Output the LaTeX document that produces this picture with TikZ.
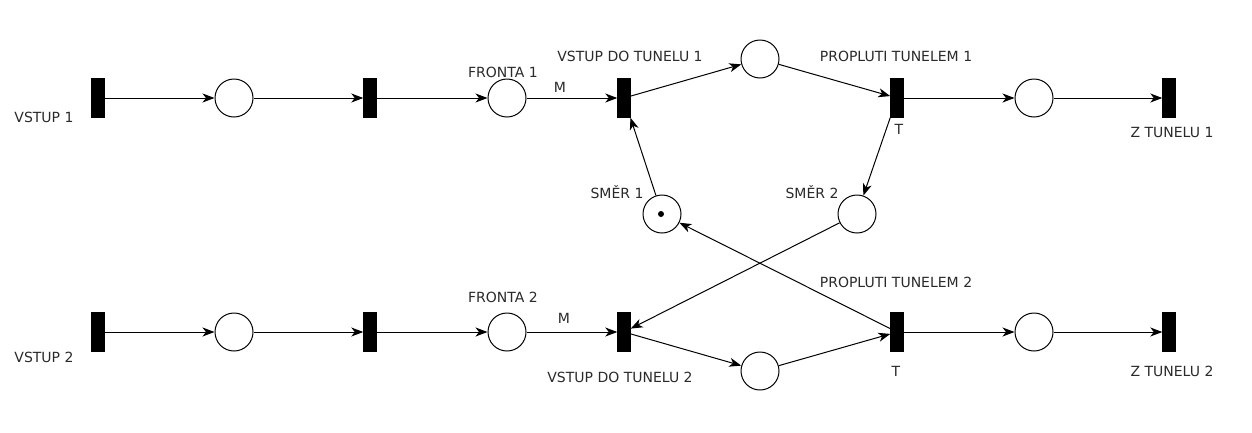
\documentclass[tikz,border=0pt]{standalone}
\usepackage{fontspec}
\setmainfont{DejaVu Sans}
\usetikzlibrary{arrows.meta}
\definecolor{txt}{HTML}{2A2A2A}
\begin{document}
\begin{tikzpicture}[x=1pt,y=-1pt,
  trans/.style={rectangle,fill=black,draw=black,minimum width=13pt,minimum height=39pt,inner sep=0pt},
  place/.style={circle,draw=black,line width=1pt,minimum size=38pt,inner sep=0pt},
  lbl/.style={text=txt,font=\fontsize{14}{16}\selectfont,inner sep=0pt},
  arc/.style={draw=black,line width=1pt,-{Stealth[length=12pt,width=9pt,inset=3.5pt]}}]
\useasboundingbox (0,0) rectangle (1252,432);
% row 1
\node[trans] (t11) at (98,98) {};
\node[place] (p11) at (234,98) {};
\node[trans] (t12) at (370,98) {};
\node[place] (f1) at (507,98) {};
\node[trans] (t13) at (624,98) {};
\node[place] (pt) at (760,59) {};
\node[trans] (t14) at (897,98) {};
\node[place] (p14) at (1034,98) {};
\node[trans] (t15) at (1169,98) {};
% middle
\node[place] (s1) at (662,214) {};
\fill (661,214) circle (3pt);
\node[place] (s2) at (857,214) {};
% row 2
\node[trans] (t21) at (98,332) {};
\node[place] (p21) at (234,332) {};
\node[trans] (t22) at (370,332) {};
\node[place] (f2) at (507,332) {};
\node[trans] (t23) at (624,332) {};
\node[place] (pb) at (760,371) {};
\node[trans] (t24) at (897,332) {};
\node[place] (p24) at (1034,332) {};
\node[trans] (t25) at (1169,332) {};
% arcs row 1
\draw[arc] (t11) -- (p11);
\draw[arc] (p11) -- (t12);
\draw[arc] (t12) -- (f1);
\draw[arc] (f1) -- (t13);
\draw[arc] (t13) -- (pt);
\draw[arc] (pt) -- (t14);
\draw[arc] (t14) -- (p14);
\draw[arc] (p14) -- (t15);
% cross arcs
\draw[arc] (t14) -- (s2);
\draw[arc] (s1) -- (t13);
\draw[arc] (s2) -- (t23);
\draw[arc] (t24) -- (s1);
% arcs row 2
\draw[arc] (t21) -- (p21);
\draw[arc] (p21) -- (t22);
\draw[arc] (t22) -- (f2);
\draw[arc] (f2) -- (t23);
\draw[arc] (t23) -- (pb);
\draw[arc] (pb) -- (t24);
\draw[arc] (t24) -- (p24);
\draw[arc] (p24) -- (t25);
% labels
\node[lbl] (l1) at (44,117) {VSTUP 1};
\node[lbl] (l2) at (503,72) {FRONTA 1};
\node[lbl] (l3) at (630,56) {VSTUP DO TUNELU 1};
\node[lbl] (l4) at (896,56) {PROPLUTI TUNELEM 1};
\node[lbl] (l5) at (1172,132) {Z TUNELU 1};
\node[lbl] (l6) at (899,129) {T};
\node[lbl] (l7) at (560,87) {M};
\node[lbl] (l8) at (617,192) {SMĚR 1};
\node[lbl] (l9) at (812,192) {SMĚR 2};
\node[lbl] (l10) at (896,282) {PROPLUTI TUNELEM 2};
\node[lbl] (l11) at (503,297) {FRONTA 2};
\node[lbl] (l12) at (564,318) {M};
\node[lbl] (l13) at (620,377) {VSTUP DO TUNELU 2};
\node[lbl] (l14) at (896,371) {T};
\node[lbl] (l15) at (1172,371) {Z TUNELU 2};
\node[lbl] (l16) at (44,357) {VSTUP 2};
\end{tikzpicture}
\end{document}
